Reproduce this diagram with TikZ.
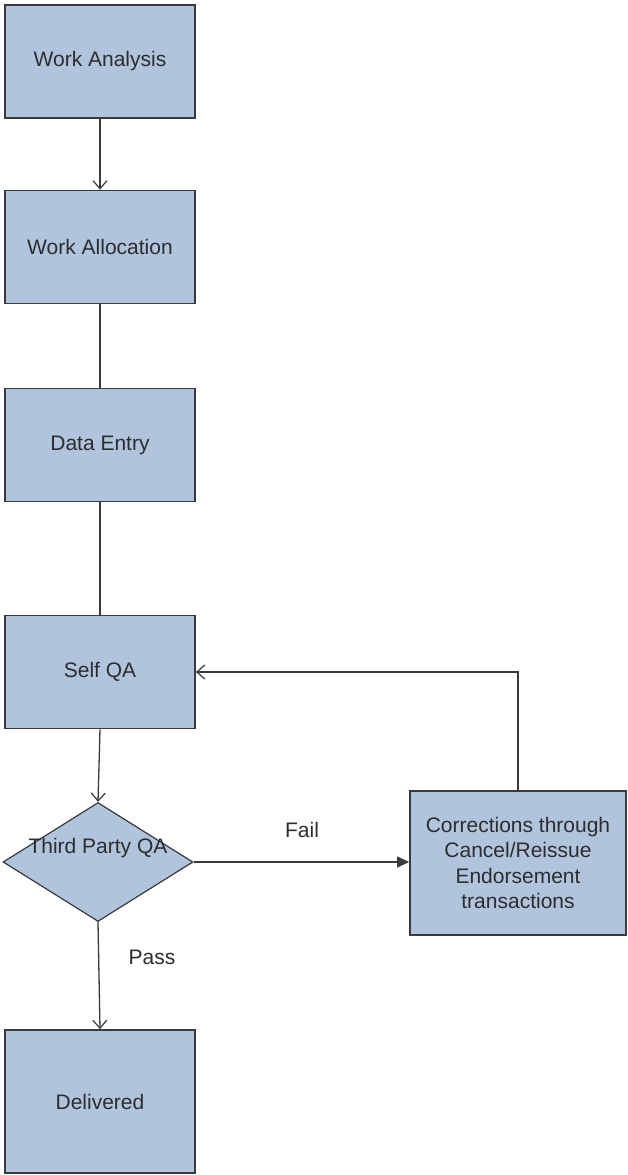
\documentclass[tikz,border=0pt]{standalone}
\usepackage{fontspec}
\setmainfont{Liberation Sans}
\usetikzlibrary{shapes.geometric,arrows.meta}
\definecolor{boxfill}{RGB}{176,196,222}
\definecolor{boxline}{RGB}{58,58,58}
\definecolor{inkcol}{RGB}{45,45,45}
\tikzset{
  stepbox/.style={draw=boxline, line width=1.8pt, fill=boxfill, rectangle,
    minimum width=190pt, minimum height=113pt, inner sep=0pt, align=center,
    text=inkcol, font=\fontsize{21}{25.5}\selectfont},
  bigbox/.style={stepbox, minimum width=216pt, minimum height=144pt},
  decision/.style={draw=boxline, line width=1.2pt, fill=boxfill, diamond,
    minimum width=190pt, minimum height=119pt, inner sep=0pt},
  txt/.style={text=inkcol, font=\fontsize{21}{25.5}\selectfont, inner sep=0pt},
  link/.style={draw=boxline, line width=1.3pt},
  openarrow/.style={link, -{Straight Barb[length=8pt,width=14pt,line width=1.2pt]}},
  solidarrow/.style={link, -{Triangle[length=12pt,width=11pt]}}
}
\begin{document}
\begin{tikzpicture}[x=1pt,y=-1pt]
\useasboundingbox (0,0) rectangle (627,1175);
\fill[white] (0,0) rectangle (627,1175);

\node[stepbox] (wa) at (100,61.5) {Work Analysis};
\node[stepbox] (wl) at (100,247) {Work Allocation};
\node[stepbox] (de) at (100,445) {Data Entry};
\node[stepbox] (sq) at (100,672) {Self QA};
\node[decision] (tp) at (98,862) {};
\node[txt] (tpl) at (98,848) {Third Party QA};
\node[bigbox] (co) at (518,863) {Corrections through\\Cancel/Reissue\\Endorsement\\transactions};
\node[stepbox, minimum height=143pt] (dv) at (100,1101.5) {Delivered};

\node[txt] (fail) at (302,830) {Fail};
\node[txt] (pass) at (152,957) {Pass};

\coordinate (bend) at (co.north |- sq.east);

\draw[openarrow] (wa) -- (wl);
\draw[link] (wl) -- (de);
\draw[link] (de) -- (sq);
\draw[openarrow] (sq.south) -- (tp.north);
\draw[solidarrow] (tp.east) -- (co.west |- tp.east);
\draw[openarrow] (co.north) -- (bend) -- (sq.east);
\draw[openarrow] (tp.south) -- (dv.north);
\end{tikzpicture}
\end{document}
